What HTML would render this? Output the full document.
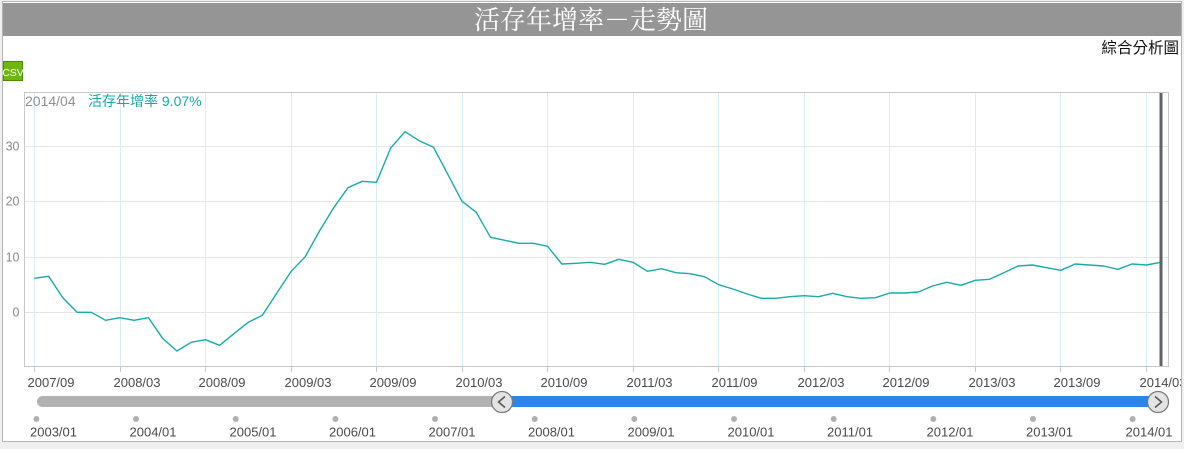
<!DOCTYPE html>
<html><head><meta charset="utf-8">
<style>
html,body{margin:0;padding:0;background:#efefef;width:1184px;height:449px;overflow:hidden;}
svg{display:block;}
</style></head>
<body>
<svg width="1184" height="449" viewBox="0 0 1184 449" xmlns="http://www.w3.org/2000/svg" font-family="Liberation Sans, Noto Sans CJK TC, sans-serif">
<rect x="0" y="0" width="1184" height="449" fill="#efefef"/>
<rect x="2.5" y="1.5" width="1179" height="440" fill="#ffffff" stroke="#b4b4b4" stroke-width="1"/>
<rect x="3" y="3" width="1178" height="33" fill="#959595"/>
<text x="591" y="29" text-anchor="middle" fill="#ffffff" font-size="26" font-family="Liberation Serif, Noto Serif CJK SC, serif">活存年增率－走勢圖</text>
<text x="1179" y="53" text-anchor="end" fill="#111" font-size="15.5" font-family="Liberation Sans, Noto Sans CJK TC, sans-serif">綜合分析圖</text>
<rect x="3.5" y="61.5" width="19" height="19" fill="#6cb80e" stroke="#4d8a06"/>
<text x="13" y="76" text-anchor="middle" fill="#fff" font-size="10.5">CSV</text>

<!-- grid -->
<g stroke="#e6e6e6" stroke-width="1">
<line x1="24" y1="146.5" x2="1169" y2="146.5"/>
<line x1="24" y1="201.5" x2="1169" y2="201.5"/>
<line x1="24" y1="257.5" x2="1169" y2="257.5"/>
<line x1="24" y1="312.5" x2="1169" y2="312.5"/>
</g>
<g stroke="#d8eef6" stroke-width="1">
<line x1="34.5" y1="92" x2="34.5" y2="367"/>
<line x1="120.5" y1="92" x2="120.5" y2="367"/>
<line x1="205.5" y1="92" x2="205.5" y2="367"/>
<line x1="291.5" y1="92" x2="291.5" y2="367"/>
<line x1="376.5" y1="92" x2="376.5" y2="367"/>
<line x1="462.5" y1="92" x2="462.5" y2="367"/>
<line x1="547.5" y1="92" x2="547.5" y2="367"/>
<line x1="633.5" y1="92" x2="633.5" y2="367"/>
<line x1="718.5" y1="92" x2="718.5" y2="367"/>
<line x1="804.5" y1="92" x2="804.5" y2="367"/>
<line x1="889.5" y1="92" x2="889.5" y2="367"/>
<line x1="975.5" y1="92" x2="975.5" y2="367"/>
<line x1="1060.5" y1="92" x2="1060.5" y2="367"/>
<line x1="1146.5" y1="92" x2="1146.5" y2="367"/>
</g>
<rect x="24.5" y="92.5" width="1144" height="274" fill="none" stroke="#c8c8c8"/>
<g stroke="#c8c8c8">
<line x1="34.5" y1="367" x2="34.5" y2="372"/><line x1="120.5" y1="367" x2="120.5" y2="372"/><line x1="205.5" y1="367" x2="205.5" y2="372"/><line x1="291.5" y1="367" x2="291.5" y2="372"/><line x1="376.5" y1="367" x2="376.5" y2="372"/><line x1="462.5" y1="367" x2="462.5" y2="372"/><line x1="547.5" y1="367" x2="547.5" y2="372"/><line x1="633.5" y1="367" x2="633.5" y2="372"/><line x1="718.5" y1="367" x2="718.5" y2="372"/><line x1="804.5" y1="367" x2="804.5" y2="372"/><line x1="889.5" y1="367" x2="889.5" y2="372"/><line x1="975.5" y1="367" x2="975.5" y2="372"/><line x1="1060.5" y1="367" x2="1060.5" y2="372"/><line x1="1146.5" y1="367" x2="1146.5" y2="372"/>
</g>

<!-- y labels -->
<g fill="#8a8a8a" font-size="12.5" text-anchor="end">
<text x="19.5" y="150.5">30</text>
<text x="19.5" y="205.5">20</text>
<text x="19.5" y="261.5">10</text>
<text x="19.5" y="316.5">0</text>
</g>

<!-- legend -->
<text x="25" y="106" fill="#909090" font-size="14">2014/04</text>
<text x="88" y="106" fill="#16a8a8" font-size="14">活存年增率 9.07%</text>

<!-- series -->
<polyline fill="none" stroke="#17abab" stroke-width="1.4" stroke-linejoin="round" points="
34.3,278.3 48.6,276.3 62.8,297.7 77.1,312.3 91.3,312.3 105.6,320.3 119.8,317.7 134.1,320.3 148.4,317.7 162.6,338.3
176.9,351 191.1,342.3 205.4,339.7 219.6,345.3 233.9,333.7 248.2,322.3 262.4,315.3 276.7,293.3 290.9,271.7 305.2,256.7
319.5,231 333.7,207.7 348,187.7 362.2,181.3 376.5,182.3 390.7,148 405,131.7 419.2,140.7 433.5,147.3 447.8,174.3
462,201.3 476.3,212.3 490.5,237.3 504.8,240.3 519,243.3 533.3,243.3 547.6,246.3 561.8,264 576.1,263.3 590.3,262.3
604.6,264.3 618.9,259.3 633.1,262.3 647.4,271.3 661.6,268.7 675.9,272.7 690.1,273.7 704.4,276.7 718.7,284.7 732.9,289
747.2,294 761.4,298.3 775.7,298.3 789.9,296.7 804.2,295.7 818.5,296.7 832.7,293.3 847,296.7 861.2,298.3 875.5,297.7
889.8,293 904,293 918.3,292 932.5,286 946.8,282.3 961,285.3 975.3,280.3 989.5,279.3 1003.8,272.7 1018,266
1032.3,265 1046.6,267.7 1060.8,270.3 1075.1,264 1089.3,265 1103.6,266 1117.8,269.3 1132.1,264 1146.4,265 1160.6,262.3"/>
<rect x="1159.5" y="93" width="3" height="273" fill="#5f6368"/>

<!-- x labels -->
<g fill="#4a4a4a" font-size="13">
<text x="27.5" y="387">2007/09</text>
<text x="113.5" y="387">2008/03</text>
<text x="198.5" y="387">2008/09</text>
<text x="284.5" y="387">2009/03</text>
<text x="369.5" y="387">2009/09</text>
<text x="455.5" y="387">2010/03</text>
<text x="540.5" y="387">2010/09</text>
<text x="626.5" y="387">2011/03</text>
<text x="711.5" y="387">2011/09</text>
<text x="797.5" y="387">2012/03</text>
<text x="882.5" y="387">2012/09</text>
<text x="968.5" y="387">2013/03</text>
<text x="1053.5" y="387">2013/09</text>
<text x="1139.5" y="387">2014/03</text>
</g>
<rect x="1181" y="372" width="3" height="20" fill="#efefef"/>
<line x1="1181.5" y1="360" x2="1181.5" y2="442" stroke="#b4b4b4"/>

<!-- slider -->
<rect x="37" y="396" width="470" height="11" rx="5.5" fill="#b2b2b2"/>
<rect x="500" y="396" width="658" height="11" fill="#2a86ea"/>
<circle cx="502" cy="402" r="10.5" fill="#e4e4e4" stroke="#7a7a7a" stroke-width="1.3"/>
<polyline points="505,396.5 498.5,402 505,407.5" fill="none" stroke="#555" stroke-width="1.5"/>
<circle cx="1158" cy="402" r="10.5" fill="#e4e4e4" stroke="#7a7a7a" stroke-width="1.3"/>
<polyline points="1155,396.5 1161.5,402 1155,407.5" fill="none" stroke="#555" stroke-width="1.5"/>

<g fill="#b0b0b0">
<circle cx="36.4" cy="419" r="3"/><circle cx="136" cy="419" r="3"/><circle cx="235.7" cy="419" r="3"/><circle cx="335.4" cy="419" r="3"/><circle cx="435" cy="419" r="3"/><circle cx="534.7" cy="419" r="3"/><circle cx="634.3" cy="419" r="3"/><circle cx="734" cy="419" r="3"/><circle cx="833.7" cy="419" r="3"/><circle cx="933.3" cy="419" r="3"/><circle cx="1033" cy="419" r="3"/><circle cx="1132.6" cy="419" r="3"/>
</g>
<g fill="#4a4a4a" font-size="13">
<text x="30" y="436.5">2003/01</text>
<text x="129.5" y="436.5">2004/01</text>
<text x="229.5" y="436.5">2005/01</text>
<text x="329" y="436.5">2006/01</text>
<text x="428.5" y="436.5">2007/01</text>
<text x="528" y="436.5">2008/01</text>
<text x="627.5" y="436.5">2009/01</text>
<text x="727.5" y="436.5">2010/01</text>
<text x="827" y="436.5">2011/01</text>
<text x="926.5" y="436.5">2012/01</text>
<text x="1026" y="436.5">2013/01</text>
<text x="1125.5" y="436.5">2014/01</text>
</g>
</svg>
</body></html>
